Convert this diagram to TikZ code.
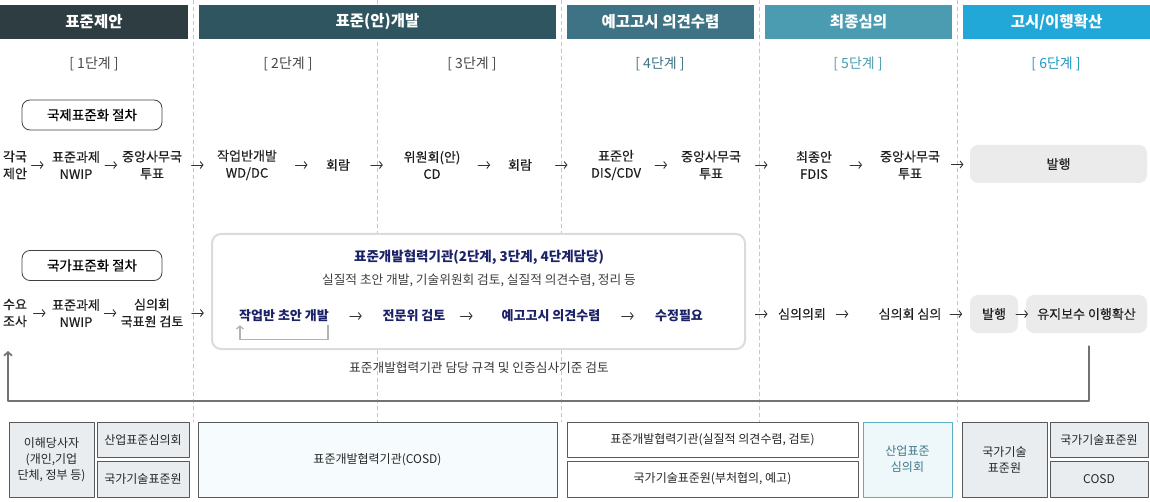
\documentclass[tikz,border=0pt]{standalone}
\usepackage{fontspec}
\setmainfont{Noto Sans CJK KR}
\newfontfamily\med{Noto Sans CJK KR}[FakeBold=0.35]
\usetikzlibrary{arrows.meta,calc}
\definecolor{hdA}{HTML}{2E3D42}
\definecolor{hdB}{HTML}{2F5561}
\definecolor{hdC}{HTML}{3D7384}
\definecolor{hdD}{HTML}{4B9CB1}
\definecolor{hdE}{HTML}{22A8D8}
\definecolor{navy}{HTML}{1C2268}
\definecolor{boxgray}{HTML}{E9EDF0}
\definecolor{pubgray}{HTML}{EBEBEB}
\definecolor{teal}{HTML}{5AAFC0}
\begin{document}
\begin{tikzpicture}[x=1pt, y=-1pt, line join=round, line cap=round,
	font=\med\fontsize{13}{17}\selectfont,
	hd/.style={inner sep=0pt, minimum height=34pt, text=white, font=\fontsize{15.5}{17}\selectfont\bfseries},
	stg/.style={text=black!72, font=\fontsize{14}{16}\selectfont},
	proc/.style={draw=black!75, line width=0.8pt, rounded corners=8pt, minimum width=140pt, minimum height=30pt, inner sep=0pt, font=\med\fontsize{13.5}{16}\selectfont},
	txt/.style={align=center, text=black!88, inner sep=1pt},
	blue/.style={text=navy, inner sep=1pt, font=\fontsize{13}{16}\selectfont\bfseries},
	pub/.style={fill=pubgray, rounded corners=8pt, inner sep=0pt, minimum height=38pt, text=black!88},
	bx/.style={draw=black!65, line width=0.7pt, align=center, inner sep=0pt, font=\fontsize{12}{16}\selectfont, text=black!85},
	arr/.style={-{Straight Barb[length=2.8pt,width=7pt]}, line width=0.9pt, draw=black!80},
	sep/.style={draw=black!22, line width=0.5pt, dash pattern=on 4pt off 3pt}]
\useasboundingbox (0,0) rectangle (1150,502);
\foreach \x in {193,377,561,759,957}
	\draw[sep] (\x,0) -- (\x,422);
% headers
\node[hd, fill=hdA, minimum width=188pt] (h1) at (94,22) {표준제안};
\node[hd, fill=hdB, minimum width=357pt] (h2) at (377.5,22) {표준(안)개발};
\node[hd, fill=hdC, minimum width=187pt] (h3) at (660.5,22) {예고고시 의견수렴};
\node[hd, fill=hdD, minimum width=187pt] (h4) at (858.5,22) {최종심의};
\node[hd, fill=hdE, minimum width=187pt] (h5) at (1056.5,22) {고시/이행확산};
\node[stg] (s1) at (94,64) {[ 1단계 ]};
\node[stg] (s2) at (288,64) {[ 2단계 ]};
\node[stg] (s3) at (472,64) {[ 3단계 ]};
\node[stg, text=hdC] (s4) at (660,64) {[ 4단계 ]};
\node[stg, text=hdD] (s5) at (858,64) {[ 5단계 ]};
\node[stg, text=hdE!90!black] (s6) at (1056,64) {[ 6단계 ]};
% 국제표준화
\node[proc] (intl) at (92,115) {국제표준화 절차};
\node[txt] (a1) at (15,165) {각국\\제안};
\node[txt] (a2) at (76,165) {표준과제\\NWIP};
\node[txt] (a3) at (152,165) {중앙사무국\\투표};
\node[txt] (a4) at (247,165) {작업반개발\\WD/DC};
\node[txt] (a5) at (338,165) {회람};
\node[txt] (a6) at (432,165) {위원회(안)\\CD};
\node[txt] (a7) at (520,165) {회람};
\node[txt] (a8) at (616,165) {표준안\\DIS/CDV};
\node[txt] (a9) at (711,165) {중앙사무국\\투표};
\node[txt] (a10) at (814,165) {최종안\\FDIS};
\node[txt] (a11) at (910,165) {중앙사무국\\투표};
\node[pub, minimum width=177pt] (a12) at (1058.5,164) {발행};
\foreach \p/\q/\d in {a1/a2/-2,a2/a3/0,a3/a4/-2,a4/a5/0,a5/a6/0,a6/a7/0,a7/a8/0,a8/a9/0,a9/a10/-7,a10/a11/0,a11/a12/2}
	\draw[arr] ($(\p.east)!.5!(\q.west)+(\d,0)$) +(-6,0) -- +(6,0);
% 국가표준화
\node[proc] (natl) at (92,265.5) {국가표준화 절차};
\node[txt] (b1) at (15,313) {수요\\조사};
\node[txt] (b2) at (76,313) {표준과제\\NWIP};
\node[txt] (b3) at (152,313) {심의회\\국표원 검토};
\node[draw=black!14, line width=2pt, fill=white, rounded corners=9pt, minimum width=533pt, minimum height=115pt] (dev) at (478.5,291.5) {};
\node[blue, font=\fontsize{13.5}{16}\selectfont\bfseries] (devt) at (479,257) {표준개발협력기관(2단계, 3단계, 4단계담당)};
\node[txt, font=\fontsize{12.7}{15}\selectfont, text=black!75] (devs) at (479,280) {실질적 초안 개발, 기술위원회 검토, 실질적 의견수렴, 정리 등};
\node[blue] (draft) at (284,316) {작업반 초안 개발};
\node[blue] (review) at (414,316) {전문위 검토};
\node[blue] (notice) at (551,316) {예고고시 의견수렴};
\node[blue] (revise) at (679,316) {수정필요};
\node[txt] (b4) at (802,314) {심의의뢰};
\node[txt] (b5) at (910,314) {심의회 심의};
\node[pub, minimum width=48pt] (b6) at (994,314) {발행};
\node[pub, minimum width=121pt] (b7) at (1086.5,314) {유지보수 이행확산};
\foreach \p/\q/\d in {b1/b2/0,b2/b3/0,draft/review/0,review/notice/-7,notice/revise/0,b4/b5/-10,b5/b6/0,b6/b7/0}
	\draw[arr] ($(\p.east)!.5!(\q.west)+(\d,0)$) +(-6,0) -- +(6,0);
\draw[arr] ($(b3.east)!.5!(b3.east -| dev.west)$) +(-6,0) -- +(6,0);
\draw[arr] ($(b4.west -| dev.east)!.5!(b4.west)$) +(-6,0) -- +(6,0);
\draw[-{Straight Barb[length=3pt,width=7pt]}, draw=black!30, line width=1.2pt] ($(draft.south east)+(-2,2)$) -- ++(0,14) -| ($(draft.south west)+(2,2)$);
\node[txt, font=\fontsize{12.7}{15}\selectfont, text=black!78] (note) at (479,368) {표준개발협력기관 담당 규격 및 인증심사기준 검토};
% 되돌아가는 선
\coordinate (fb) at (8,351);
\draw[-{Straight Barb[length=3.5pt,width=8pt]}, draw=black!55, line width=1.8pt] ($(b7.south)+(2.5,13)$) -- ++(0,55) -| (fb);
% 담당 기관
\node[bx, fill=boxgray, minimum width=85pt, minimum height=75pt] (k1) at (51.5,459.5) {이해당사자\\(개인,기업\\단체, 정부 등)};
\node[bx, fill=boxgray, minimum width=92pt, minimum height=35pt] (k2) at (143,440) {산업표준심의회};
\node[bx, fill=boxgray, minimum width=92pt, minimum height=36pt] (k3) at (143,479) {국가기술표준원};
\node[bx, fill=hdE!4, minimum width=359pt, minimum height=75pt] (k4) at (377.5,459.5) {표준개발협력기관(COSD)};
\node[bx, fill=white, minimum width=291pt, minimum height=35pt] (k5) at (712.5,440) {표준개발협력기관(실질적 의견수렴, 검토)};
\node[bx, fill=white, minimum width=291pt, minimum height=36pt] (k6) at (712.5,479) {국가기술표준원(부처협의, 예고)};
\node[bx, draw=teal, fill=teal!10, text=hdC!90!teal, minimum width=89pt, minimum height=75pt] (k7) at (907.5,459.5) {산업표준\\심의회};
\node[bx, fill=boxgray, minimum width=85pt, minimum height=75pt] (k8) at (1004.5,459.5) {국가기술\\표준원};
\node[bx, fill=boxgray, minimum width=98pt, minimum height=35pt] (k9) at (1099,440) {국가기술표준원};
\node[bx, fill=boxgray, minimum width=98pt, minimum height=36pt] (k10) at (1099,479) {COSD};
\end{tikzpicture}
\end{document}
